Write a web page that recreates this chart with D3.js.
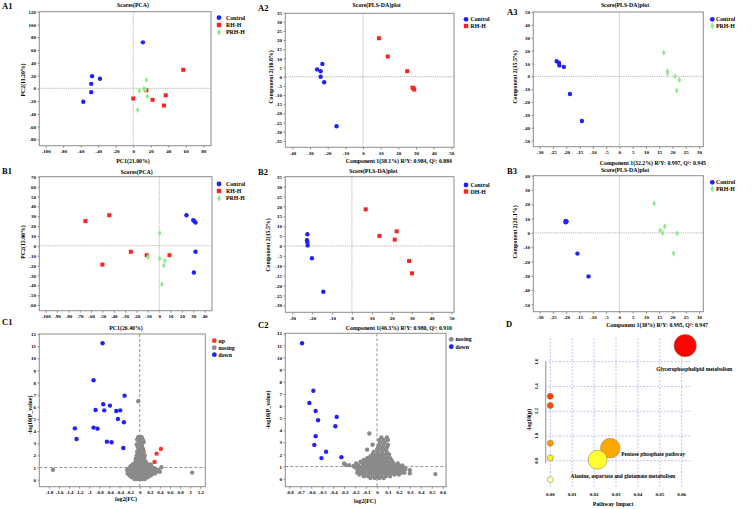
<!DOCTYPE html>
<html>
<head>
<meta charset="utf-8">
<script src="https://cdn.jsdelivr.net/npm/d3@7"></script>
<style>
body { margin: 0; background: #fff; }
svg text { font-family: "Liberation Serif", "Times New Roman", serif; font-weight: bold; }
</style>
</head>
<body>
<svg id="fig" width="753" height="509"></svg>
<script>
// ---- score plots: [x, y] per sample ----
const a1Control = [[11,72],[-47,19],[-38,15],[-48,7],[-48,-6],[-57,-21]];
const a1RH = [[57,29],[0,-16],[15,-3],[22,-18],[37,-11],[35,-27]];
const a1PRH = [[15,13],[7,-4],[12,-1],[14,-2],[16,-13],[5,-34]];

const a2Control = [[-23,7],[-26,4],[-24,3],[-24,0],[-22,-3],[-15,-27]];
const a2RH = [[9,21],[14,11],[25,3],[28,-6],[28.5,-6.2],[29,-7]];

const a3Control = [[-23.6,11.7],[-22.7,10.4],[-22.6,8.5],[-20.9,7.3],[-18.6,-13.7],[-14.1,-34.7]];
const a3PRH = [[16.7,18.4],[18.1,4.1],[18.1,2.3],[21,0],[22.6,-2.8],[21.6,-11.1]];

const b1Control = [[24,31],[30,26],[31,25],[32,23.5],[32,-6],[30.5,-27]];
const b1RH = [[-65,25],[-44,31],[-25,-6],[-11,-9.5],[-50,-19],[9,-9.5]];
const b1PRH = [[0.4,13],[-10,-11.5],[0.4,-13],[5,-15],[4,-20],[2.4,-39]];

const b2Control = [[-22.4,5.9],[-22.6,2.9],[-22.4,1.9],[-22.3,0.3],[-20.1,-6.2],[-14.4,-23.1]];
const b2DH = [[6.9,18.5],[13.8,5.1],[22.5,7.4],[21.5,3.2],[28.7,-7.6],[30.2,-13.8]];

const b3Control = [[-20.2,8.3],[-20,7.6],[-20.3,7.4],[-19.9,8.1],[-15.8,-14.5],[-11.6,-30.4]];
const b3PRH = [[13.1,20.6],[15.3,1.8],[17.1,4.6],[16.3,-0.1],[21.7,-0.3],[20.4,-14.3]];

// ---- volcano plots: [log2(FC), -log10(P)] ----
const c1Down = [[-0.736,11.24],[-0.915,8.19],[-0.3,6.92],[-0.723,6.21],[-0.59,6.1],[-0.875,5.74],
  [-0.703,5.71],[-0.465,5.66],[-0.386,5.71],[-0.432,5.0],[-0.313,4.73],[-1.285,4.23],[-0.915,4.29],
  [-0.836,4.2],[-1.252,3.35],[-0.65,3.13],[-0.558,3.08],[-0.326,2.61]];
const c1Up = [[0.42,2.53],[0.334,2.14],[0.295,1.46]];
const c1Nosing = [[-1.72,0.82],[1.04,0.58],[-0.03,6.46],[0.43,1.02],
  [-0.1,0.05],[-0.05,0.05],[0,0.05],[0.05,0.05],[0.1,0.05],
  [-0.16,0.2],[-0.12,0.2],[-0.08,0.2],[-0.04,0.2],[0,0.2],[0.04,0.2],[0.08,0.2],[0.12,0.2],[0.16,0.2],
  [-0.2,0.35],[-0.14,0.35],[-0.1,0.35],[-0.06,0.35],[-0.02,0.35],[0.02,0.35],[0.06,0.35],[0.1,0.35],[0.14,0.35],[0.18,0.35],[0.22,0.35],
  [-0.24,0.5],[-0.18,0.5],[-0.12,0.5],[-0.08,0.5],[-0.04,0.5],[0,0.5],[0.04,0.5],[0.08,0.5],[0.12,0.5],[0.16,0.5],[0.2,0.5],[0.25,0.5],[0.3,0.5],
  [-0.22,0.65],[-0.16,0.65],[-0.1,0.65],[-0.06,0.65],[-0.02,0.65],[0.02,0.65],[0.06,0.65],[0.1,0.65],[0.14,0.65],[0.18,0.65],[0.22,0.65],[0.27,0.65],[0.33,0.65],[0.4,0.65],
  [-0.25,0.8],[-0.19,0.8],[-0.13,0.8],[-0.08,0.8],[-0.04,0.8],[0,0.8],[0.04,0.8],[0.08,0.8],[0.12,0.8],[0.16,0.8],[0.2,0.8],[0.25,0.8],[0.31,0.8],[0.37,0.8],
  [-0.21,0.95],[-0.15,0.95],[-0.1,0.95],[-0.06,0.95],[-0.02,0.95],[0.02,0.95],[0.06,0.95],[0.1,0.95],[0.14,0.95],[0.19,0.95],[0.24,0.95],[0.29,0.95],
  [-0.18,1.1],[-0.12,1.1],[-0.07,1.1],[-0.03,1.1],[0.01,1.1],[0.05,1.1],[0.09,1.1],[0.13,1.1],[0.18,1.1],[0.23,1.1],
  [-0.14,1.25],[-0.08,1.25],[-0.03,1.25],[0.02,1.25],[0.06,1.25],[0.11,1.25],[0.16,1.25],[0.22,1.25],
  [-0.09,1.4],[-0.04,1.4],[0,1.4],[0.04,1.4],[0.08,1.4],[0.13,1.4],
  [-0.07,1.55],[-0.02,1.55],[0.02,1.55],[0.06,1.55],[0.1,1.55],
  [-0.08,1.7],[-0.03,1.7],[0.01,1.7],[0.05,1.7],[0.09,1.7],
  [-0.05,1.85],[0,1.85],[0.04,1.85],[0.08,1.85],
  [-0.06,2.0],[-0.02,2.0],[0.02,2.0],[0.06,2.0],[0.1,2.0],
  [-0.03,2.15],[0.01,2.15],[0.05,2.15],
  [-0.05,2.3],[0,2.3],[0.04,2.3],[0.08,2.3],
  [-0.02,2.5],[0.03,2.5],[0.07,2.5],
  [-0.04,2.7],[0.01,2.7],[0.05,2.7],
  [-0.06,2.9],[0,2.9],[0.04,2.9],
  [-0.02,3.1],[0.03,3.1],[0.08,3.1],
  [-0.05,3.3],[0.02,3.3],[0.06,3.3],
  [-0.03,3.5],[0.01,3.5],[0.04,3.5]];

const c2Down = [[-0.684,11.18],[-0.581,7.26],[-0.617,6.25],[-0.56,5.59],[-0.538,4.82],[-0.368,5.1],
  [-0.38,4.33],[-0.56,3.51],[-0.572,2.79],[-0.465,2.22],[-0.507,1.7],[-0.325,1.78]];
const c2Nosing = [[-0.07,3.73],[0.3,0.71],[0.3,0.44],[0.533,0.38],[-0.29,1.15],[-0.255,1.12],[-0.215,1.05],
  [-0.06,0.05],[-0.02,0.05],[0.02,0.05],[0.06,0.05],
  [-0.12,0.2],[-0.08,0.2],[-0.04,0.2],[0,0.2],[0.04,0.2],[0.08,0.2],[0.12,0.2],
  [-0.16,0.35],[-0.12,0.35],[-0.08,0.35],[-0.04,0.35],[0,0.35],[0.04,0.35],[0.08,0.35],[0.12,0.35],[0.16,0.35],[0.2,0.35],
  [-0.18,0.5],[-0.14,0.5],[-0.1,0.5],[-0.06,0.5],[-0.02,0.5],[0.02,0.5],[0.06,0.5],[0.1,0.5],[0.14,0.5],[0.18,0.5],[0.22,0.5],[0.25,0.5],
  [-0.16,0.65],[-0.12,0.65],[-0.08,0.65],[-0.04,0.65],[0,0.65],[0.04,0.65],[0.08,0.65],[0.12,0.65],[0.16,0.65],[0.2,0.65],[0.24,0.65],
  [-0.18,0.8],[-0.14,0.8],[-0.1,0.8],[-0.06,0.8],[-0.02,0.8],[0.02,0.8],[0.06,0.8],[0.1,0.8],[0.14,0.8],[0.18,0.8],[0.22,0.8],[0.26,0.8],
  [-0.2,0.95],[-0.15,0.95],[-0.11,0.95],[-0.07,0.95],[-0.03,0.95],[0.01,0.95],[0.05,0.95],[0.09,0.95],[0.13,0.95],[0.17,0.95],[0.21,0.95],[0.24,0.95],
  [-0.17,1.1],[-0.12,1.1],[-0.08,1.1],[-0.04,1.1],[0,1.1],[0.04,1.1],[0.08,1.1],[0.12,1.1],[0.16,1.1],[0.2,1.1],[0.23,1.1],
  [-0.3,1.25],[-0.19,1.25],[-0.13,1.25],[-0.09,1.25],[-0.05,1.25],[-0.01,1.25],[0.03,1.25],[0.07,1.25],[0.11,1.25],[0.15,1.25],[0.19,1.25],
  [-0.15,1.4],[-0.1,1.4],[-0.06,1.4],[-0.02,1.4],[0.02,1.4],[0.06,1.4],[0.1,1.4],[0.14,1.4],
  [-0.12,1.55],[-0.07,1.55],[-0.03,1.55],[0.01,1.55],[0.05,1.55],[0.09,1.55],[0.13,1.55],
  [-0.09,1.7],[-0.04,1.7],[0,1.7],[0.04,1.7],[0.08,1.7],[0.12,1.7],
  [-0.06,1.85],[-0.02,1.85],[0.02,1.85],[0.06,1.85],[0.1,1.85],
  [-0.04,2.0],[0,2.0],[0.04,2.0],[0.08,2.0],[0.11,2.0],
  [-0.03,2.2],[0.01,2.2],[0.05,2.2],[0.09,2.2],
  [-0.09,2.4],[0,2.4],[0.04,2.4],[0.08,2.4],
  [0.01,2.6],[0.05,2.6],[0.09,2.6],
  [-0.04,2.8],[0.02,2.8],[0.06,2.8],[0.1,2.8],
  [0.03,3.0],[0.07,3.0],
  [0.02,3.2],[0.06,3.2],[0.1,3.2],
  [0.04,3.4],[0.09,3.4]];

// ---- pathway analysis ----
const pathwayImpact = [0.0616, 0, 0, 0, 0.0274, 0.0216, 0, 0];
const pathwayLogP = [1.73, 1.32, 1.246, 0.942, 0.902, 0.808, 0.822, 0.647];
const pathwayNames = ["Glycerophospholipid metabolism", "", "", "", "Pentose phosphate pathway",
  "Alanine, aspartate and glutamate metabolism", "", ""];

// ---- tick values ----
const a1XTicks = [-100,-80,-60,-40,-20,0,20,40,60,80];
const a1YTicks = [-80,-60,-40,-20,0,20,40,60,80,100,120];
const a2XTicks = [-40,-30,-20,-10,0,10,20,30,40,50];
const a2YTicks = [-35,-30,-25,-20,-15,-10,-5,0,5,10,15,20,25,30,35];
const a3XTicks = [-30,-25,-20,-15,-10,-5,0,5,10,15,20,25,30];
const a3YTicks = [-50,-40,-30,-20,-10,0,10,20,30,40,50];
const b1XTicks = [-100,-90,-80,-70,-60,-50,-40,-30,-20,-10,0,10,20,30,40];
const b1YTicks = [-60,-50,-40,-30,-20,-10,0,10,20,30,40,50,60,70];
const b2XTicks = [-30,-20,-10,0,10,20,30,40,50];
const b2YTicks = [-30,-25,-20,-15,-10,-5,0,5,10,15,20,25,30,35];
const b3XTicks = [-30,-25,-20,-15,-10,-5,0,5,10,15,20,25,30];
const b3YTicks = [-50,-40,-30,-20,-10,0,10,20,30,40];
const c1XTicks = [-1.8,-1.6,-1.4,-1.2,-1,-0.8,-0.6,-0.4,-0.2,0,0.2,0.4,0.6,0.8,1,1.2];
const c1YTicks = [0,1,2,3,4,5,6,7,8,9,10,11,12];
const c2XTicks = [-0.8,-0.7,-0.6,-0.5,-0.4,-0.3,-0.2,-0.1,0,0.1,0.2,0.3,0.4,0.5,0.6];
const c2YTicks = [0,1,2,3,4,5,6,7,8,9,10,11,12];
const dXTicks = [0,0.01,0.02,0.03,0.04,0.05,0.06];
const dYTicks = [0.8,1.0,1.2,1.4,1.6];

const BLUE = "#2020ff", RED = "#ff2020", GREEN = "#90e890", GRAY = "#8a8a8a";
const symSize = {circle: 15, square: 16, diamond: 11};
const symType = {circle: d3.symbolCircle, square: d3.symbolSquare, diamond: d3.symbolDiamond};

const svg = d3.select("#fig");

function scatterPanel(p) {
  const g = svg.append("g");
  const x = d3.scaleLinear().domain(p.xDom).range([p.left, p.right]);
  const y = d3.scaleLinear().domain(p.yDom).range([p.bottom, p.top]);

  // reference lines
  const ref = p.volcano
    ? {stroke: "#777", dash: "3,2", w: 0.8}
    : {stroke: "#aaa", dash: "1.2,1", w: 0.9};
  g.append("line").attr("x1", x(0)).attr("x2", x(0)).attr("y1", p.top).attr("y2", p.bottom)
    .attr("stroke", ref.stroke).attr("stroke-dasharray", ref.dash).attr("stroke-width", ref.w);
  const hy = p.volcano ? 1 : 0;
  g.append("line").attr("x1", p.left).attr("x2", p.right).attr("y1", y(hy)).attr("y2", y(hy))
    .attr("stroke", ref.stroke).attr("stroke-dasharray", ref.dash).attr("stroke-width", ref.w);

  // points
  p.series.forEach(s => {
    g.append("g").selectAll("path")
      .data(s.data)
      .enter()
      .append("path")
      .attr("d", d3.symbol().type(symType[s.shape]).size(symSize[s.shape]))
      .attr("transform", d => "translate(" + x(d[0]) + "," + y(d[1]) + ")")
      .attr("fill", s.color);
  });

  g.append("rect")
    .attr("x", p.left).attr("y", p.top)
    .attr("width", p.right - p.left).attr("height", p.bottom - p.top)
    .attr("fill", "none").attr("stroke", "#8c8c8c").attr("stroke-width", 1);

  const xAxis = g.append("g")
    .attr("transform", "translate(0," + p.bottom + ")")
    .call(d3.axisBottom(x).tickValues(p.xTicks).tickSize(2).tickPadding(2.2).tickFormat(d => String(d)));
  const yAxis = g.append("g")
    .attr("transform", "translate(" + p.left + ",0)")
    .call(d3.axisLeft(y).tickValues(p.yTicks).tickSize(1.8).tickPadding(1.6).tickFormat(d => String(d)));
  [xAxis, yAxis].forEach(a => {
    a.attr("font-size", 5);
    a.select(".domain").remove();
    a.selectAll(".tick line").attr("stroke", "#8c8c8c");
    a.selectAll("text").attr("fill", "#000");
  });

  // texts
  g.append("text").attr("x", p.tag[0]).attr("y", p.tag[1]).attr("font-size", 8.5).text(p.tagText);
  if (p.title) {
    g.append("text").attr("x", p.titleX).attr("y", p.titleY).attr("text-anchor", "middle")
      .attr("font-size", 5.8).text(p.title);
  }
  g.append("text").attr("x", p.xLab[0]).attr("y", p.xLab[1])
    .attr("text-anchor", p.xLabAnchor || "middle").attr("font-size", 5.8).text(p.xLabel);
  g.append("text").attr("transform", "translate(" + p.yLab[0] + "," + p.yLab[1] + ") rotate(-90)")
    .attr("text-anchor", "middle").attr("font-size", 5.8).text(p.yLabel);

  // legend
  p.legend.names.forEach((name, i) => {
    const s = p.legend.items[i];
    const ly = p.legend.ys[i];
    g.append("path")
      .attr("d", d3.symbol().type(symType[s.shape]).size(symSize[s.shape] * 1.2))
      .attr("transform", "translate(" + p.legend.x + "," + ly + ")")
      .attr("fill", s.color);
    g.append("text").attr("x", p.legend.tx).attr("y", ly + 2).attr("font-size", 5.8).text(name);
  });
}

const circ = c => ({shape: "circle", color: c});
const sq = c => ({shape: "square", color: c});
const dia = c => ({shape: "diamond", color: c});

// A1
scatterPanel({
  left: 39.3, right: 211, top: 11.7, bottom: 145.7,
  xDom: [-107.2, 88.7], yDom: [-89.9, 120], xTicks: a1XTicks, yTicks: a1YTicks,
  series: [{data: a1Control, ...circ(BLUE)}, {data: a1RH, ...sq(RED)}, {data: a1PRH, ...dia(GREEN)}],
  tag: [2, 8.8], tagText: "A1", title: "Scores(PCA)", titleX: 133, titleY: 7,
  xLabel: "PC1(21.00%)", xLab: [133, 163], yLabel: "PC2(11.20%)", yLab: [25, 80],
  legend: {names: ["Control", "RH-H", "PRH-H"], items: [circ(BLUE), sq(RED), dia(GREEN)],
    x: 219, tx: 226, ys: [17.7, 25, 32.3]}
});

// A2
scatterPanel({
  left: 285.3, right: 454, top: 13.3, bottom: 147.3,
  xDom: [-44, 51.5], yDom: [-38.5, 34.6], xTicks: a2XTicks, yTicks: a2YTicks,
  series: [{data: a2Control, ...circ(BLUE)}, {data: a2RH, ...sq(RED)}],
  tag: [258, 10.5], tagText: "A2", title: "Score(PLS-DA)plot", titleX: 376.7, titleY: 7,
  xLabel: "Component 1(38.1%)  R²Y: 0.984, Q²: 0.884", xLab: [452, 163], xLabAnchor: "end",
  yLabel: "Component 2(10.8%)", yLab: [272.5, 77],
  legend: {names: ["Control", "RH-H"], items: [circ(BLUE), sq(RED)], x: 466, tx: 470.5, ys: [19.3, 26]}
});

// A3
scatterPanel({
  left: 533.3, right: 703.3, top: 12, bottom: 146.7,
  xDom: [-32.4, 31.6], yDom: [-54.7, 50], xTicks: a3XTicks, yTicks: a3YTicks,
  series: [{data: a3Control, ...circ(BLUE)}, {data: a3PRH, ...dia(GREEN)}],
  tag: [507, 14.5], tagText: "A3", title: "Score(PLS-DA)plot", titleX: 625, titleY: 7,
  xLabel: "Component 1(32.2%) R²Y: 0.997, Q²: 0.945", xLab: [706, 164.5], xLabAnchor: "end",
  yLabel: "Component 2(15.5%)", yLab: [517, 77],
  legend: {names: ["Control", "PRH-H"], items: [circ(BLUE), dia(GREEN)], x: 712.3, tx: 716, ys: [19.3, 26]}
});

// B1
scatterPanel({
  left: 39.3, right: 212, top: 176.7, bottom: 310.7,
  xDom: [-105.6, 46.5], yDom: [-65.7, 70], xTicks: b1XTicks, yTicks: b1YTicks,
  series: [{data: b1Control, ...circ(BLUE)}, {data: b1RH, ...sq(RED)}, {data: b1PRH, ...dia(GREEN)}],
  tag: [2, 174], tagText: "B1", title: "Scores(PCA)", titleX: 136.7, titleY: 174,
  xLabel: "PC1(26.40%)", xLab: [126, 329.5], yLabel: "PC2(15.00%)", yLab: [24.5, 242],
  legend: {names: ["Control", "RH-H", "PRH-H"], items: [circ(BLUE), sq(RED), dia(GREEN)],
    x: 219, tx: 226, ys: [184, 191, 198.3]}
});

// B2
scatterPanel({
  left: 285.3, right: 454, top: 176.7, bottom: 312.3,
  xDom: [-33.5, 51.3], yDom: [-33.5, 35], xTicks: b2XTicks, yTicks: b2YTicks,
  series: [{data: b2Control, ...circ(BLUE)}, {data: b2DH, ...sq(RED)}],
  tag: [258, 174.5], tagText: "B2", title: "Score(PLS-DA)plot", titleX: 373.3, titleY: 173,
  xLabel: "Component 1(46.3%)  R²Y: 0.980, Q²: 0.910", xLab: [452, 329.5], xLabAnchor: "end",
  yLabel: "Component 2(15.5%)", yLab: [270, 245],
  legend: {names: ["Control", "DH-H"], items: [circ(BLUE), sq(RED)], x: 466, tx: 470.5, ys: [185, 191.5]}
});

// B3
scatterPanel({
  left: 533.3, right: 703.3, top: 175.7, bottom: 311.7,
  xDom: [-32.4, 31.6], yDom: [-55.1, 40], xTicks: b3XTicks, yTicks: b3YTicks,
  series: [{data: b3Control, ...circ(BLUE)}, {data: b3PRH, ...dia(GREEN)}],
  tag: [507, 174], tagText: "B3", title: "Score(PLS-DA)plot", titleX: 625, titleY: 172,
  xLabel: "Component 1(38%) R²Y: 0.995, Q²: 0.947", xLab: [708, 326.5], xLabAnchor: "end",
  yLabel: "Component 2(21.1%)", yLab: [517, 232],
  legend: {names: ["Control", "PRH-H"], items: [circ(BLUE), dia(GREEN)], x: 712.3, tx: 716, ys: [182.3, 189]}
});

// C1
scatterPanel({
  volcano: true,
  left: 39.3, right: 205.3, top: 334, bottom: 486.7,
  xDom: [-1.99, 1.3], yDom: [-0.58, 12], xTicks: c1XTicks, yTicks: c1YTicks,
  series: [{data: c1Nosing, ...circ(GRAY)}, {data: c1Down, ...circ(BLUE)}, {data: c1Up, ...circ("#ff3030")}],
  tag: [2, 325], tagText: "C1",
  xLabel: "log2(FC)", xLab: [126, 500.5], yLabel: "-log10(P_value)", yLab: [31.5, 415],
  legend: {names: ["up", "nosing", "down"], items: [circ("#ff3030"), circ(GRAY), circ(BLUE)],
    x: 214.3, tx: 218.5, ys: [340.7, 347.7, 354.7]}
});

// C2
scatterPanel({
  volcano: true,
  left: 285.3, right: 446, top: 333.3, bottom: 486.7,
  xDom: [-0.837, 0.63], yDom: [-0.66, 12], xTicks: c2XTicks, yTicks: c2YTicks,
  series: [{data: c2Nosing, ...circ(GRAY)}, {data: c2Down, ...circ(BLUE)}],
  tag: [258, 328], tagText: "C2",
  xLabel: "log2(FC)", xLab: [365, 503], yLabel: "-log10(P_value)", yLab: [270, 410],
  legend: {names: ["nosing", "down"], items: [circ(GRAY), circ(BLUE)], x: 451.3, tx: 455.5, ys: [339.3, 346.7]}
});

// D: pathway bubble plot
(function () {
  const g = svg.append("g");
  const x = d3.scaleLinear().domain([0, 0.06]).range([550.3, 681.7]);
  const y = d3.scaleLinear().domain([0.8, 1.6]).range([460.7, 361.7]);
  const r = d3.scaleLinear().domain([0, 0.02, 0.07]).range([3, 9.5, 11.5]);
  const color = d3.scaleLinear()
    .domain([0.64, 0.81, 0.9, 1.0, 1.3, 1.75])
    .range(["#ffffc8", "#ffff30", "#ffaa00", "#ff8000", "#ff4000", "#ff0000"]);

  g.selectAll(".vgrid").data(dXTicks).enter().append("line")
    .attr("x1", d => x(d)).attr("x2", d => x(d)).attr("y1", 338).attr("y2", 487)
    .attr("stroke", "#a6a6f0").attr("stroke-width", 0.7).attr("stroke-dasharray", "2,1.5");
  g.selectAll(".hgrid").data(dYTicks).enter().append("line")
    .attr("x1", 545).attr("x2", 692).attr("y1", d => y(d)).attr("y2", d => y(d))
    .attr("stroke", "#a6a6f0").attr("stroke-width", 0.7).attr("stroke-dasharray", "2,1.5");

  g.append("line").attr("x1", 545.7).attr("x2", 545.7).attr("y1", y(1.6)).attr("y2", y(0.78))
    .attr("stroke", "#aaa").attr("stroke-width", 1.3);

  const pts = pathwayImpact.map((v, i) => ({impact: v, logp: pathwayLogP[i], name: pathwayNames[i]}));
  g.selectAll("circle").data(pts).enter().append("circle")
    .attr("cx", d => x(d.impact)).attr("cy", d => y(d.logp)).attr("r", d => r(d.impact))
    .attr("fill", d => color(d.logp)).attr("stroke", "#8a6a4a").attr("stroke-width", 0.5);

  const labelOffset = {0: [-29, 25], 4: [11, 8], 5: [-27, 18]};
  pts.forEach((d, i) => {
    if (!d.name) return;
    g.append("text").attr("x", x(d.impact) + labelOffset[i][0]).attr("y", y(d.logp) + labelOffset[i][1])
      .attr("font-size", 5.4).text(d.name);
  });

  g.selectAll(".xt").data(dXTicks).enter().append("text")
    .attr("x", d => x(d)).attr("y", 496).attr("text-anchor", "middle").attr("font-size", 5)
    .text(d3.format(".2f"));
  g.selectAll(".yt").data(dYTicks).enter().append("text")
    .attr("transform", d => "translate(538," + y(d) + ") rotate(-90)")
    .attr("text-anchor", "middle").attr("font-size", 5).text(d3.format(".1f"));

  g.append("text").attr("x", 613).attr("y", 505.5).attr("text-anchor", "middle")
    .attr("font-size", 5.8).text("Pathway Impact");
  g.append("text").attr("transform", "translate(531,420) rotate(-90)")
    .attr("text-anchor", "middle").attr("font-size", 5.8).text("-log10(p)");
  g.append("text").attr("x", 506).attr("y", 327).attr("font-size", 8.5).text("D");
})();
</script>
</body>
</html>
